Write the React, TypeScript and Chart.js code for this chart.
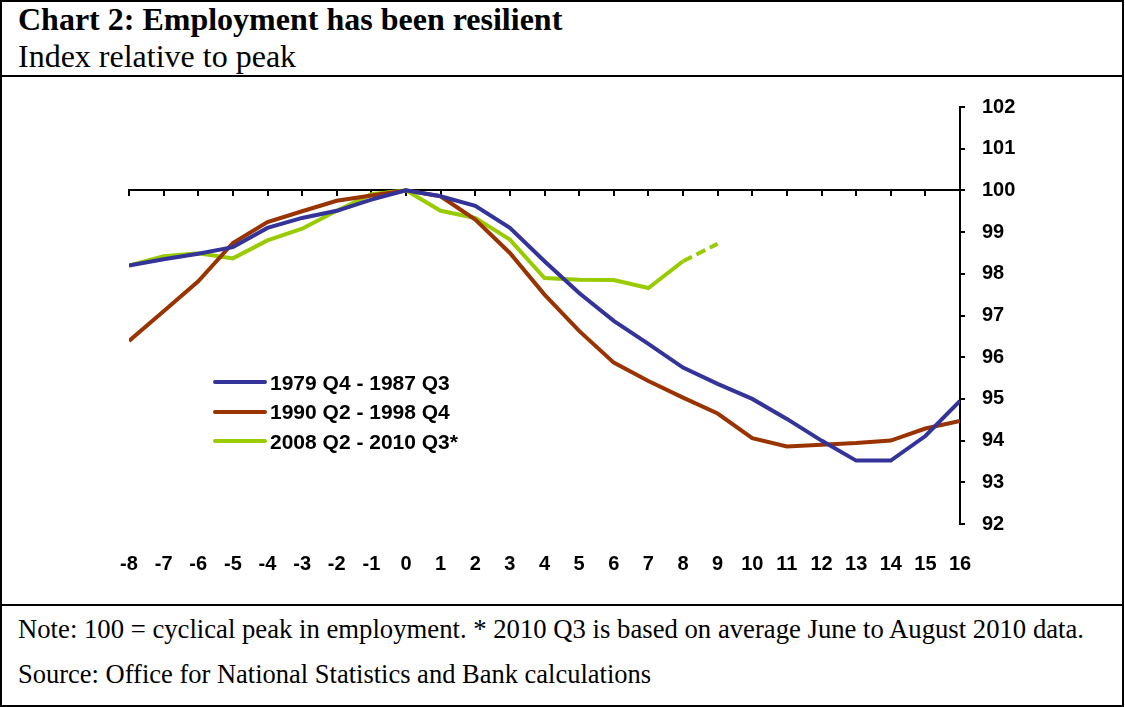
import React, { useEffect, useRef } from "react";
import { Chart, registerables } from "chart.js";

Chart.register(...registerables);

// ---- Data ----
const quarters = [-8, -7, -6, -5, -4, -3, -2, -1, 0, 1, 2, 3, 4, 5, 6, 7, 8, 9, 10, 11, 12, 13, 14, 15, 16];
const emp1979 = [98.2, 98.35, 98.48, 98.64, 99.1, 99.34, 99.51, 99.78, 100, 99.86, 99.63, 99.1, 98.3, 97.54, 96.87, 96.32, 95.75, 95.36, 95.0, 94.52, 94.0, 93.52, 93.52, 94.11, 94.95];
const emp1990 = [96.39, 97.1, 97.82, 98.74, 99.24, 99.5, 99.75, 99.88, 100, 99.86, 99.3, 98.5, 97.5, 96.63, 95.87, 95.43, 95.03, 94.65, 94.06, 93.86, 93.9, 93.94, 94.0, 94.29, 94.47];
const emp2008 = [98.2, 98.42, 98.49, 98.37, 98.8, 99.08, 99.51, 99.91, 100, 99.51, 99.34, 98.82, 97.9, 97.86, 97.85, 97.66, 98.3, 98.72];
const seriesNames = ["1979 Q4 - 1987 Q3", "1990 Q2 - 1998 Q4", "2008 Q2 - 2010 Q3*"];
const seriesColors = ["#333399", "#993300", "#99CC00"];
const yMin = 92;
const yMax = 102;
const xMin = -8;
const xMax = 16;
const peakValue = 100;

const titleText = "Chart 2: Employment has been resilient";
const subtitleText = "Index relative to peak";
const noteText = "Note: 100 = cyclical peak in employment. * 2010 Q3 is based on average June to August 2010 data.";
const sourceText = "Source: Office for National Statistics and Bank calculations";

const toPoints = (vals: number[]) => vals.map((v, i) => ({ x: quarters[i], y: v }));

const SANS = 'Arial, "Liberation Sans", sans-serif';
const SERIF = '"Times New Roman", "Liberation Serif", serif';

export default function App() {
  const canvasRef = useRef<HTMLCanvasElement | null>(null);

  useEffect(() => {
    document.body.style.margin = "0";
    const canvas = canvasRef.current;
    if (!canvas) return;
    const allSeries = [emp1979, emp1990, emp2008];
    const chart = new Chart(canvas, {
      type: "line",
      data: {
        datasets: allSeries.map((vals, si) => ({
          label: seriesNames[si],
          data: toPoints(vals),
          borderColor: seriesColors[si],
          backgroundColor: seriesColors[si],
          borderWidth: 4,
          pointRadius: 0,
          pointHoverRadius: 0,
          tension: 0,
          fill: false,
          segment:
            si === 2
              ? {
                  borderDash: (ctx: any) => (ctx.p1DataIndex === vals.length - 1 ? [10, 5] : undefined),
                }
              : undefined,
        })),
      },
      options: {
        animation: false,
        responsive: false,
        devicePixelRatio: 1,
        layout: { padding: { left: 127, top: 28, right: 82, bottom: 20 } },
        plugins: {
          legend: { display: false },
          tooltip: { enabled: false },
          title: { display: false },
        },
        scales: {
          x: {
            type: "linear",
            min: xMin,
            max: xMax,
            position: { y: peakValue } as any,
            ticks: { display: false, stepSize: 1 },
            grid: { drawOnChartArea: false, drawTicks: true, tickLength: 5, color: "#000", lineWidth: 2 },
            border: { display: true, color: "#000", width: 2 },
          },
          xb: {
            type: "linear",
            axis: "x",
            min: xMin,
            max: xMax,
            position: "bottom",
            ticks: {
              stepSize: 1,
              autoSkip: false,
              maxRotation: 0,
              padding: 28,
              color: "#000",
              font: { family: SANS, size: 20, weight: "bold" },
            },
            grid: { display: false, drawTicks: false },
            border: { display: false },
            afterFit: (s: any) => {
              s.height = 60;
            },
          } as any,
          y: {
            type: "linear",
            min: yMin,
            max: yMax,
            position: "right",
            ticks: {
              stepSize: 1,
              padding: 17,
              color: "#000",
              font: { family: SANS, size: 20, weight: "bold" },
            },
            grid: { drawOnChartArea: false, drawTicks: true, tickLength: 5, color: "#000", lineWidth: 2 },
            border: { display: true, color: "#000", width: 2 },
            afterFit: (s: any) => {
              s.width = 80;
            },
          },
        },
      },
    } as any);
    return () => chart.destroy();
  }, []);

  const legendTop = 382;
  const legendStep = 29.7;

  return (
    <div style={{ position: "relative", width: 1125, height: 707, background: "#fff", overflow: "hidden" }}>
      <div
        style={{
          position: "absolute",
          left: 0,
          top: 0,
          width: 1124,
          height: 707,
          border: "2px solid #000",
          boxSizing: "border-box",
        }}
      />
      <div
        style={{
          position: "absolute",
          left: 18,
          top: 3,
          font: `bold 32px ${SERIF}`,
          lineHeight: "32px",
          color: "#000",
          whiteSpace: "nowrap",
        }}
      >
        {titleText}
      </div>
      <div
        style={{
          position: "absolute",
          left: 18,
          top: 40,
          font: `32px ${SERIF}`,
          lineHeight: "32px",
          color: "#000",
          whiteSpace: "nowrap",
        }}
      >
        {subtitleText}
      </div>
      <div style={{ position: "absolute", left: 0, top: 75, width: 1124, height: 2, background: "#000" }} />
      <canvas
        ref={canvasRef}
        width={1120}
        height={526}
        style={{ position: "absolute", left: 2, top: 78, width: 1120, height: 526 }}
      />
      {seriesNames.map((name, i) => (
        <React.Fragment key={name}>
          <div
            style={{
              position: "absolute",
              left: 213,
              top: legendTop + i * legendStep - 2,
              width: 54,
              height: 4,
              borderRadius: 2,
              background: seriesColors[i],
            }}
          />
          <div
            style={{
              position: "absolute",
              left: 270,
              top: legendTop + i * legendStep - 10.5,
              font: `bold 21px ${SANS}`,
              lineHeight: "21px",
              color: "#000",
              whiteSpace: "nowrap",
            }}
          >
            {name}
          </div>
        </React.Fragment>
      ))}
      <div style={{ position: "absolute", left: 0, top: 604, width: 1124, height: 2, background: "#000" }} />
      <div
        style={{
          position: "absolute",
          left: 18,
          top: 616,
          font: `26.7px ${SERIF}`,
          lineHeight: "26.7px",
          color: "#000",
          whiteSpace: "nowrap",
        }}
      >
        {noteText}
      </div>
      <div
        style={{
          position: "absolute",
          left: 18,
          top: 661,
          font: `26.5px ${SERIF}`,
          lineHeight: "26.5px",
          color: "#000",
          whiteSpace: "nowrap",
        }}
      >
        {sourceText}
      </div>
    </div>
  );
}
